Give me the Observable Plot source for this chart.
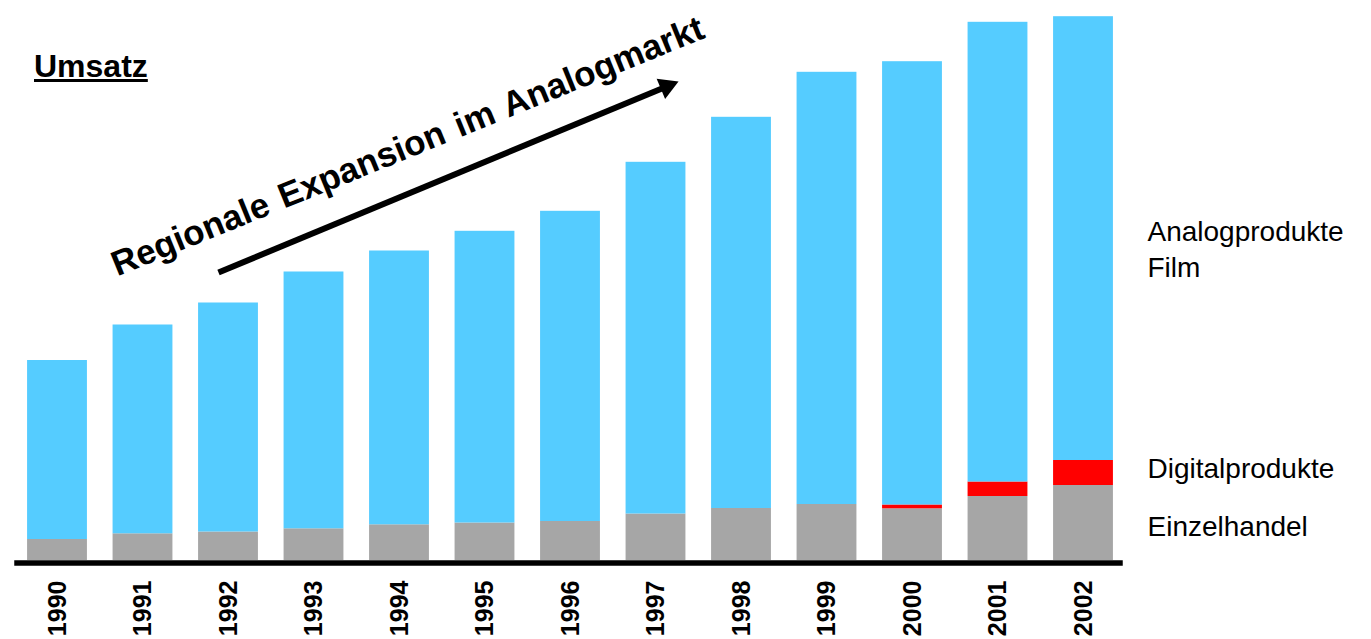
<!DOCTYPE html>
<html><head><meta charset="utf-8">
<script src="https://cdn.jsdelivr.net/npm/d3@7"></script>
<script src="https://cdn.jsdelivr.net/npm/@observablehq/plot@0.6"></script>
<style>
html,body{margin:0;padding:0;background:#fff;}
#wrap{position:relative;width:1371px;height:639px;}
#wrap svg{position:absolute;left:0;top:0;}
#title{position:absolute;left:34px;top:50px;z-index:2;font:bold 32px "Liberation Sans",Arial,sans-serif;line-height:32px;text-decoration:underline;color:#000;}
</style></head><body>
<div id="wrap"><div id="title">Umsatz</div></div>
<script>
const years = [1990,1991,1992,1993,1994,1995,1996,1997,1998,1999,2000,2001,2002];
const einzelhandel    = [21, 26.7, 28.5, 31.7, 35.7, 37.5, 39, 46.5, 52, 56, 51.7, 64, 75];
const digitalprodukte = [0, 0, 0, 0, 0, 0, 0, 0, 0, 0, 3.8, 14.5, 25];
const analogprodukte  = [179, 208.8, 229, 256.8, 273.8, 291.7, 310.2, 351.7, 391.2, 432.2, 443.3, 459.7, 443.8];
const seriesNames = ["Einzelhandel", "Digitalprodukte", "Analogprodukte Film"];
const seriesColors = ["#a6a6a6", "#ff0000", "#55ccff"];
const annotation = "Regionale Expansion im Analogmarkt";

const segments = [];
years.forEach((year, i) => {
  let base = 0;
  [einzelhandel[i], digitalprodukte[i], analogprodukte[i]].forEach((v, k) => {
    if (v > 0) segments.push({year, series: seriesNames[k], y1: base, y2: base + v});
    base += v;
  });
});
const last = years.length - 1;
const half = 0.35;

const plot = Plot.plot({
  width: 1371, height: 639,
  marginLeft: 14.25, marginRight: 245.25, marginTop: 0, marginBottom: 79,
  style: {fontFamily: '"Liberation Sans", Arial, sans-serif', fontSize: "25px", fontWeight: "bold", background: "transparent", color: "#000"},
  x: {type: "linear", domain: [1989.5, 2002.5], ticks: years, tickFormat: d => String(d), tickRotate: -90, tickSize: 0, tickPadding: 20, label: null},
  y: {domain: [0, 560], axis: null},
  color: {domain: seriesNames, range: seriesColors},
  marks: [
    Plot.rectY(segments, {x1: d => d.year - half, x2: d => d.year + half, y1: "y1", y2: "y2", fill: "series"}),
    Plot.ruleY([0], {stroke: "#000", strokeWidth: 5.5, dy: 2.5, insetRight: 3}),
    Plot.text([annotation], {x: 1990.7, y: 284, text: d => d, rotate: -22.1, textAnchor: "start", lineAnchor: "bottom", fontSize: 35, fontWeight: "bold", fill: "#000"}),
    Plot.link([0], {x1: 1991.883, y1: 288, x2: 1997.126, y2: 474.1, stroke: "#000", strokeWidth: 6}),
    Plot.dot([0], {x: 1997.126, y: 474.1, symbol: "triangle", r: 8.2, fill: "#000", stroke: "none", rotate: 67.45}),
    Plot.text(["Einzelhandel"], {x: years[last], y: einzelhandel[last] / 2, dx: 64, dy: 13.2, text: d => d, textAnchor: "start", lineAnchor: "bottom", fontSize: 28, fontWeight: "normal", fill: "#000"}),
    Plot.text(["Digitalprodukte"], {x: years[last], y: einzelhandel[last] + digitalprodukte[last] / 2, dx: 64, dy: 4.8, text: d => d, textAnchor: "start", lineAnchor: "bottom", fontSize: 28, fontWeight: "normal", fill: "#000"}),
    Plot.text(["Analogprodukte\nFilm"], {x: years[last], y: einzelhandel[last] + digitalprodukte[last] + analogprodukte[last] / 2, dx: 64, dy: 37.9, text: d => d, textAnchor: "start", lineAnchor: "bottom", lineHeight: 1.26, fontSize: 28, fontWeight: "normal", fill: "#000"})
  ]
});
plot.querySelectorAll("text").forEach(t => {
  if (t.textContent === annotation) t.style.wordSpacing = "3px";
});
document.getElementById("wrap").appendChild(plot);
</script>
</body></html>
